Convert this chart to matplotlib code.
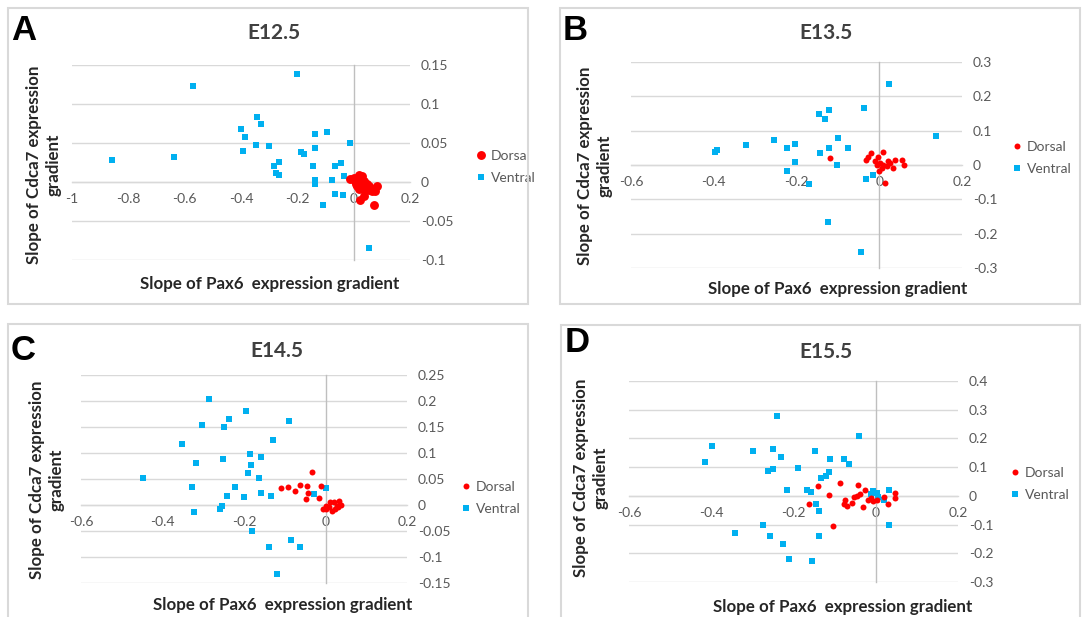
import matplotlib
matplotlib.use("Agg")
import matplotlib.pyplot as plt
from matplotlib.patches import Rectangle
from matplotlib.lines import Line2D
from matplotlib.ticker import FixedLocator, FuncFormatter

plt.rcParams['font.family'] = ['Lato', 'DejaVu Sans']
plt.rcParams['axes.unicode_minus'] = False

W, H = 1086, 617

# ---------------- data ----------------
# E12.5
a_ventral_x = [-0.858, -0.638, -0.571, -0.201, -0.342, -0.328, -0.401, -0.385, -0.393, -0.345,
               -0.300, -0.283, -0.264, -0.276, -0.264, -0.187, -0.177, -0.137, -0.096, -0.139,
               -0.144, -0.137, -0.139, -0.110, -0.076, -0.067, -0.045, -0.066, -0.039, -0.034,
               -0.013, 0.054]
a_ventral_y = [0.028, 0.032, 0.123, 0.138, 0.083, 0.074, 0.068, 0.058, 0.040, 0.048,
               0.046, 0.021, 0.026, 0.011, 0.009, 0.039, 0.036, 0.061, 0.064, 0.044,
               0.021, 0.003, -0.002, -0.029, 0.002, 0.021, 0.024, -0.015, -0.017, 0.008,
               0.050, -0.085]
a_dorsal_x = [-0.012, 0.000, 0.018, 0.030, 0.006, 0.024, 0.035, 0.047, 0.030, 0.059, 0.083,
              0.071, 0.041, 0.018, 0.012, 0.024, 0.071, 0.035, 0.053, 0.077, 0.010, 0.045, 0.065]
a_dorsal_y = [0.004, 0.005, 0.009, 0.008, 0.001, -0.001, 0.001, -0.003, -0.008, -0.010, -0.005,
              -0.009, -0.012, -0.009, -0.005, -0.023, -0.029, -0.018, -0.005, -0.012, -0.002,
              -0.008, -0.012]

# E13.5
b_ventral_x = [-0.397, -0.392, -0.323, -0.254, -0.222, -0.203, -0.204, -0.222, -0.169, -0.146,
               -0.130, -0.121, -0.144, -0.121, -0.099, -0.101, -0.075, -0.036, 0.024, 0.136,
               -0.032, -0.016, -0.123, -0.043]
b_ventral_y = [0.039, 0.043, 0.057, 0.072, 0.049, 0.061, 0.009, -0.017, -0.056, 0.148,
               0.133, 0.159, 0.034, 0.050, 0.080, 0.000, 0.050, 0.167, 0.235, 0.085,
               -0.040, -0.030, -0.165, -0.253]
b_dorsal_x = [-0.119, -0.031, -0.019, -0.002, 0.010, -0.010, -0.006, 0.002, 0.010, 0.006,
              0.018, 0.026, 0.034, 0.038, 0.054, 0.060, 0.000, 0.014, 0.022, -0.026]
b_dorsal_y = [0.019, 0.015, 0.034, 0.024, 0.039, 0.011, 0.001, 0.006, 0.001, -0.008,
              -0.003, 0.006, -0.008, 0.016, 0.016, -0.001, -0.017, -0.053, 0.011, 0.022]

# E14.5
c_ventral_x = [-0.286, -0.196, -0.236, -0.304, -0.250, -0.089, -0.128, -0.351, -0.186, -0.159,
               -0.252, -0.317, -0.183, -0.189, -0.163, -0.447, -0.328, -0.221, -0.241, -0.200,
               -0.159, -0.133, -0.254, -0.259, -0.322, -0.181, -0.084, -0.063, -0.138, -0.119,
               -0.029, 0.000]
c_ventral_y = [0.203, 0.181, 0.166, 0.153, 0.150, 0.162, 0.125, 0.118, 0.099, 0.092,
               0.088, 0.080, 0.077, 0.062, 0.051, 0.052, 0.035, 0.034, 0.017, 0.015,
               0.024, 0.017, -0.001, -0.008, -0.014, -0.050, -0.067, -0.080, -0.080, -0.133,
               0.021, 0.033]
c_dorsal_x = [-0.034, -0.109, -0.092, -0.063, -0.075, -0.045, -0.043, -0.047, -0.016, -0.010,
              -0.006, 0.002, 0.009, 0.015, 0.020, 0.027, 0.034, 0.039, 0.012, 0.023, 0.031, 0.002]
c_dorsal_y = [0.064, 0.033, 0.035, 0.038, 0.026, 0.037, 0.023, 0.012, 0.013, 0.037,
              -0.008, -0.001, -0.004, -0.011, 0.005, -0.001, 0.008, 0.000, 0.005, -0.008,
              -0.004, -0.008]

# E15.5
d_ventral_x = [-0.239, -0.041, -0.398, -0.414, -0.299, -0.251, -0.230, -0.147, -0.111, -0.076,
               -0.065, -0.261, -0.249, -0.190, -0.114, -0.122, -0.134, -0.215, -0.166, -0.157,
               -0.146, -0.139, 0.032, 0.033, -0.275, -0.342, -0.258, -0.138, -0.226, -0.210,
               -0.154, -0.006, 0.002, 0.006, 0.019, -0.012]
d_ventral_y = [0.279, 0.208, 0.175, 0.119, 0.157, 0.163, 0.134, 0.155, 0.127, 0.130,
               0.111, 0.088, 0.094, 0.097, 0.082, 0.068, 0.063, 0.022, 0.022, 0.013,
               -0.030, -0.051, 0.021, -0.101, -0.103, -0.128, -0.141, -0.141, -0.167, -0.219,
               -0.228, 0.016, 0.009, -0.005, -0.016, 0.007]
d_dorsal_x = [-0.141, -0.162, -0.113, -0.087, -0.103, -0.075, -0.078, -0.070, -0.057, -0.044,
              -0.026, -0.045, -0.038, -0.030, -0.018, -0.012, -0.006, 0.004, 0.020, 0.031,
              0.046, 0.048, -0.054]
d_dorsal_y = [0.036, -0.030, 0.003, 0.046, -0.104, -0.014, -0.028, -0.034, -0.024, 0.039,
              0.022, -0.002, 0.005, -0.039, -0.016, -0.007, -0.019, -0.014, -0.005, -0.028,
              0.009, -0.008, -0.005]

panel_letters = ['A', 'B', 'C', 'D']
panel_titles = ['E12.5', 'E13.5', 'E14.5', 'E15.5']
x_ticks = [[-1, -0.8, -0.6, -0.4, -0.2, 0, 0.2],
           [-0.6, -0.4, -0.2, 0, 0.2],
           [-0.6, -0.4, -0.2, 0, 0.2],
           [-0.6, -0.4, -0.2, 0, 0.2]]
y_ticks = [[-0.1, -0.05, 0, 0.05, 0.1, 0.15],
           [-0.3, -0.2, -0.1, 0, 0.1, 0.2, 0.3],
           [-0.15, -0.1, -0.05, 0, 0.05, 0.1, 0.15, 0.2, 0.25],
           [-0.3, -0.2, -0.1, 0, 0.1, 0.2, 0.3, 0.4]]
series_names = ['Dorsal', 'Ventral']
x_label = 'Slope of Pax6  expression gradient'
y_label = 'Slope of Cdca7 expression\ngradient'

ventral = [(a_ventral_x, a_ventral_y), (b_ventral_x, b_ventral_y),
           (c_ventral_x, c_ventral_y), (d_ventral_x, d_ventral_y)]
dorsal = [(a_dorsal_x, a_dorsal_y), (b_dorsal_x, b_dorsal_y),
          (c_dorsal_x, c_dorsal_y), (d_dorsal_x, d_dorsal_y)]

# ---------------- layout (pixels) ----------------
# plot areas: left, right, top, bottom
plot_px = [(72, 410, 65, 260),
           (631, 962, 62, 268),
           (81, 407, 375, 583),
           (629, 958, 381, 582)]
frame_px = [(8, 528, 8, 304), (560, 1080, 8, 304), (8, 528, 324, 640), (561, 1080, 325, 640)]
letter_px = [(11, 30), (563, 30), (11, 350), (565, 343)]
title_px = [(274, 33), (826, 33), (277, 351), (826, 352)]
xlabel_px = [(270, 284), (838, 289), (283, 605), (843, 607)]
ylabel_px = [(44, 165), (595, 166), (47, 480), (591, 478)]
legend_px = [(477, 167), (1013, 158), (462, 498), (1011, 484)]
dorsal_size = [6.4, 4.3, 4.3, 4.3]
ventral_size = [4.5, 4.3, 4.5, 4.3]

RED = '#FF0000'
BLUE = '#00B0F0'
GRID = '#D9D9D9'
TICK = '#595959'
TEXT = '#404040'


def fx(px):
    return px / W


def fy(py):
    return 1 - py / H


def fmt(v, pos=None):
    v = round(v, 4)
    if v == 0:
        return '0'
    return f'{v:g}'


fig = plt.figure(figsize=(W / 100, H / 100), dpi=100)
fig.patch.set_facecolor('white')

for i in range(4):
    l, r, t, b = frame_px[i]
    fig.add_artist(Rectangle((fx(l), fy(b)), fx(r - l), (b - t) / H,
                             transform=fig.transFigure, fill=False,
                             edgecolor='#D9D9D9', linewidth=1.5))

    l, r, t, b = plot_px[i]
    ax = fig.add_axes([fx(l), fy(b), (r - l) / W, (b - t) / H])
    xt, yt = x_ticks[i], y_ticks[i]
    ax.set_xlim(xt[0], xt[-1])
    ax.set_ylim(yt[0], yt[-1])
    ax.xaxis.set_major_locator(FixedLocator(xt))
    ax.yaxis.set_major_locator(FixedLocator(yt))
    ax.xaxis.set_major_formatter(FuncFormatter(fmt))
    ax.yaxis.set_major_formatter(FuncFormatter(fmt))
    ax.yaxis.tick_right()
    ax.grid(axis='y', color=GRID, linewidth=1.0, zorder=0)
    ax.set_axisbelow(True)
    for s in ('top', 'right'):
        ax.spines[s].set_visible(False)
    ax.spines['left'].set_position(('data', 0))
    ax.spines['left'].set_color('#BFBFBF')
    ax.spines['left'].set_linewidth(1.0)
    ax.spines['bottom'].set_position(('data', 0))
    ax.spines['bottom'].set_color(GRID)
    ax.spines['bottom'].set_linewidth(1.0)
    ax.tick_params(axis='x', length=0, pad=8, labelsize=10, labelcolor=TICK)
    ax.tick_params(axis='y', length=0, pad=8, labelsize=10, labelcolor=TICK,
                   left=False, right=False)
    ax.set_facecolor('none')

    dx, dy = dorsal[i]
    vx, vy = ventral[i]
    ax.plot(vx, vy, linestyle='none', marker='s', markersize=ventral_size[i],
            color=BLUE, markeredgewidth=0, zorder=3, label=series_names[1], clip_on=False)
    ax.plot(dx, dy, linestyle='none', marker='o', markersize=dorsal_size[i],
            color=RED, markeredgewidth=0, zorder=3, label=series_names[0], clip_on=False)

    handles = [Line2D([], [], linestyle='none', marker='o', markersize=dorsal_size[i],
                      color=RED, markeredgewidth=0),
               Line2D([], [], linestyle='none', marker='s', markersize=ventral_size[i],
                      color=BLUE, markeredgewidth=0)]
    lx, ly = legend_px[i]
    leg = ax.legend(handles, series_names, loc='center left',
                    bbox_to_anchor=(fx(lx), fy(ly)), bbox_transform=fig.transFigure,
                    frameon=False, fontsize=10, handlelength=0.6, handletextpad=0.4,
                    labelspacing=0.75, borderpad=0, borderaxespad=0)
    for txt in leg.get_texts():
        txt.set_color(TICK)

    x0, y0 = letter_px[i]
    fig.text(fx(x0), fy(y0), panel_letters[i], fontsize=25, fontweight='bold',
             color='black', ha='left', va='center', family=['Liberation Sans', 'DejaVu Sans'])
    x0, y0 = title_px[i]
    fig.text(fx(x0), fy(y0), panel_titles[i], fontsize=15, fontweight='bold',
             color=TEXT, ha='center', va='center')
    x0, y0 = xlabel_px[i]
    fig.text(fx(x0), fy(y0), x_label, fontsize=12.2, fontweight='bold',
             color='#262626', ha='center', va='center')
    x0, y0 = ylabel_px[i]
    fig.text(fx(x0), fy(y0), y_label, fontsize=12.2, fontweight='bold',
             color='#262626', ha='center', va='center', rotation=90,
             multialignment='center', linespacing=1.25)

fig.savefig('out.png', dpi=100, facecolor='white')
